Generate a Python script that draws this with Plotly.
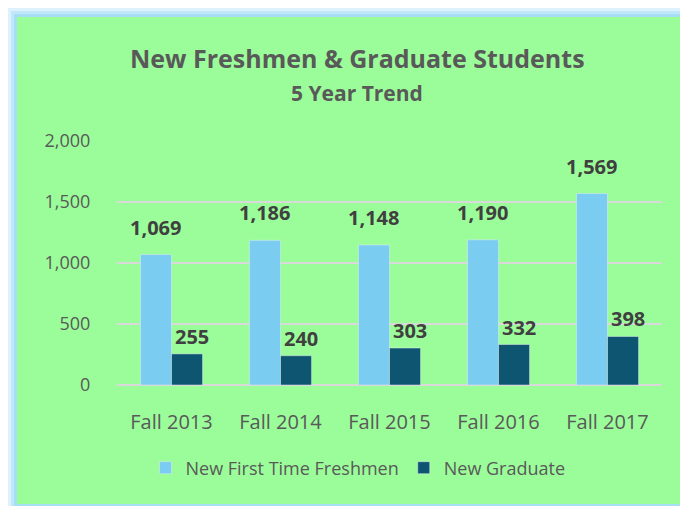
import plotly.graph_objects as go

# Enrollment counts by fall term
terms = ["Fall 2013", "Fall 2014", "Fall 2015", "Fall 2016", "Fall 2017"]
freshmen = [1069, 1186, 1148, 1190, 1569]
graduate = [255, 240, 303, 332, 398]

font_family = "'Open Sans', Lato, sans-serif"
gray_text = "#595959"
label_color = "#404040"

fig = go.Figure()
fig.add_trace(go.Bar(x=terms, y=freshmen, name="New First Time Freshmen", marker_color="#7ACCF0"))
fig.add_trace(go.Bar(x=terms, y=graduate, name="New Graduate", marker_color="#0D5570"))

# page body adds an 8px offset, so figure coords = screen coords - 8
OFF = 8
W, H = 680, 498
L, R, T, B = 117 - OFF, 26, 141 - OFF, 121
pw, ph = W - L - R, H - T - B


def px_x(v):
    return (v - OFF - L) / pw


def px_y(v):
    return (H - B - (v - OFF)) / ph


# glow frame and green chart background (screen pixel positions)
shapes = []
for edge, col in [(8, "#DDF2FC"), (11, "#C0E8F9"), (14, "#A6DEF6")]:
    shapes.append(dict(type="rect", xref="paper", yref="paper", layer="below",
                       x0=px_x(edge), x1=px_x(720), y0=px_y(edge), y1=px_y(540),
                       fillcolor=col, line_width=0))
shapes.append(dict(type="rect", xref="paper", yref="paper", layer="below",
                   x0=px_x(17), x1=px_x(720), y0=px_y(17), y1=px_y(504),
                   fillcolor="#9BFD99", line_width=0))

# value labels floating above the bars
label_font = dict(size=20, color=label_color, family=font_family, weight="bold")
annotations = []
for t, f, g in zip(terms, freshmen, graduate):
    annotations.append(dict(x=t, y=f, text=f"{f:,}", showarrow=False, xanchor="center",
                            yanchor="bottom", xshift=-16, yshift=12, font=label_font))
    annotations.append(dict(x=t, y=g, text=f"{g:,}", showarrow=False, xanchor="center",
                            yanchor="bottom", xshift=20, yshift=2, font=label_font))

annotations += [
    dict(text="<b>New Freshmen & Graduate Students</b>", xref="paper", yref="paper",
         x=px_x(357), y=px_y(58), xanchor="center", yanchor="middle", showarrow=False,
         font=dict(size=25, color=gray_text, family=font_family)),
    dict(text="<b>5 Year Trend</b>", xref="paper", yref="paper",
         x=px_x(357), y=px_y(93), xanchor="center", yanchor="middle", showarrow=False,
         font=dict(size=21, color=gray_text, family=font_family)),
]

fig.update_layout(
    width=W, height=H,
    margin=dict(l=L, r=R, t=T, b=B, autoexpand=False),
    paper_bgcolor="white",
    plot_bgcolor="rgba(0,0,0,0)",
    font=dict(family=font_family, color=gray_text),
    barmode="group",
    bargap=0.43,
    bargroupgap=0,
    shapes=shapes,
    showlegend=True,
    legend=dict(orientation="h", x=px_x(358), xanchor="center", y=px_y(468), yanchor="middle",
                font=dict(size=18, color=gray_text), bgcolor="rgba(0,0,0,0)",
                itemwidth=30, tracegroupgap=0),
    annotations=annotations,
)
fig.update_xaxes(showline=False, showgrid=False, ticks="outside", ticklen=19,
                 tickcolor="rgba(0,0,0,0)", tickfont=dict(size=20, color=gray_text))
fig.update_yaxes(range=[0, 2000], dtick=500, tickformat=",", showgrid=True,
                 gridcolor="#D9D9D9", gridwidth=1.5, zeroline=True, zerolinecolor="#D9D9D9",
                 zerolinewidth=1.5, ticks="outside", ticklen=22, tickcolor="rgba(0,0,0,0)",
                 tickfont=dict(size=18, color=gray_text))

fig.write_html("out.html")
